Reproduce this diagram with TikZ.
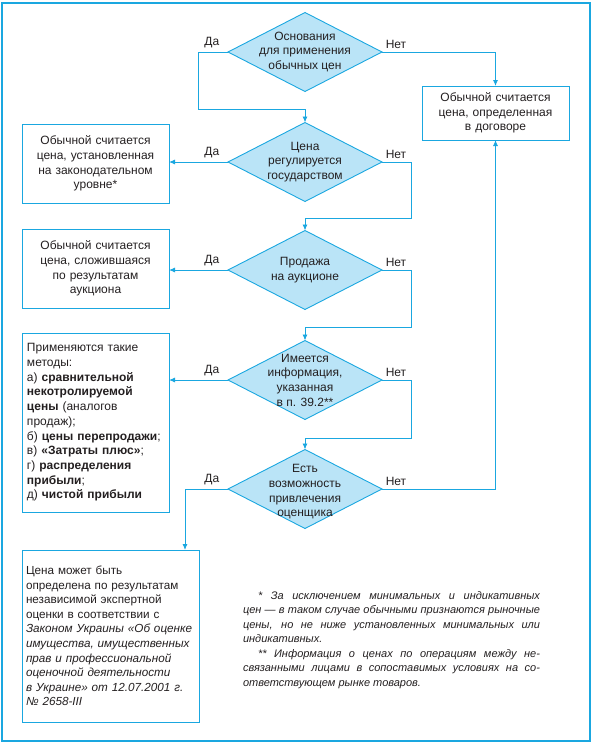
\documentclass[tikz,border=0pt]{standalone}
\usepackage{fontspec}
\setmainfont{Liberation Sans}
\usepackage{tikz}
\usetikzlibrary{calc}
\usetikzlibrary{shapes}
\usetikzlibrary{arrows.meta}

\definecolor{lineblue}{HTML}{1AA7E0}
\definecolor{fillblue}{HTML}{BAE4F7}
\definecolor{textgray}{HTML}{231F20}

\tikzset{
	decision/.style={diamond, draw=lineblue, fill=fillblue, line width=0.9pt, minimum width=154pt, minimum height=79pt, inner sep=0pt, outer sep=0pt},
	dtext/.style={align=center, font=\fontsize{12}{14.7}\selectfont, text=textgray},
	result/.style={rectangle, draw=lineblue, line width=0.9pt, inner sep=0pt, outer sep=0pt, font=\fontsize{12}{14.7}\selectfont, text=textgray},
	flow/.style={draw=lineblue, line width=0.9pt},
	answer/.style={font=\fontsize{12}{14.7}\selectfont, text=textgray},
}

\begin{document}
\begin{tikzpicture}[x=1pt, y=-1pt, >={Latex[length=6pt,width=5pt]}]
				\useasboundingbox (0,0) rectangle (592,744);
				\draw[lineblue, line width=1.6pt] (2,3) rectangle (590,741);
				
				\node[decision] (d1) at (305,52) {};
				\node[decision] (d2) at (305,162) {};
				\node[decision] (d3) at (305,270) {};
				\node[decision] (d4) at (305,380) {};
				\node[decision] (d5) at (305,489) {};
				\node[dtext] (t1) at (d1) {Основания\\для применения\\обычных цен};
				\node[dtext] (t2) at (d2) {Цена\\регулируется\\государством};
				\node[dtext] (t3) at (d3) {Продажа\\на аукционе};
				\node[dtext] (t4) at (d4) {Имеется\\информация,\\указанная\\в п. 39.2**};
				\node[dtext] (t5) at ([yshift=-3pt]d5) {Есть\\возможность\\привлечения\\оценщика};
				
				\node[result, minimum width=147pt, minimum height=54pt, text width=140pt, align=center] (b1) at (495.5,113) {Обычной считается\\цена, определенная\\в договоре};
				\node[result, minimum width=147pt, minimum height=79pt, text width=140pt, align=center] (b2) at (95.5,163.5) {Обычной считается\\цена, установленная\\на законодательном\\уровне*};
				\node[result, minimum width=147pt, minimum height=79pt, text width=140pt, align=center] (b3) at (95.5,268.5) {Обычной считается\\цена, сложившаяся\\по результатам\\аукциона};
				\node[result, minimum width=147pt, minimum height=179pt, text width=137pt, align=left] (b4) at (95.5,422.5) {Применяются такие\\методы:\\а) \textbf{сравнительной}\\\textbf{некотролируемой}\\\textbf{цены} (аналогов\\продаж);\\б) \textbf{цены перепродажи};\\в) \textbf{«Затраты плюс»};\\г) \textbf{распределения}\\\textbf{прибыли};\\д) \textbf{чистой прибыли}};
				\node[result, minimum width=177pt, minimum height=172pt, text width=169pt, align=left, font=\fontsize{11.7}{14.6}\selectfont] (b5) at (110.5,636) {Цена может быть\\определена по результатам\\независимой экспертной\\оценки в соответствии с\\\textit{Законом Украины «Об~оценке}\\\textit{имущества, имущественных}\\\textit{прав и профессиональной}\\\textit{оценочной деятельности}\\\textit{в Украине» от 12.07.2001~г.}\\\textit{№ 2658-III}};
				
				\node[text width=297pt, align=justify, font=\fontsize{11}{14.5}\selectfont\itshape, text=textgray, inner sep=0pt] (note) at (391.5,640) {\hspace*{15pt}* За исключением минимальных и индикативных\linebreak цен — в таком случае обычными признаются рыночные\linebreak цены, но не ниже установленных минимальных или\linebreak индикативных.\par\hspace*{15pt}** Информация о ценах по операциям между не-\linebreak связанными лицами в сопоставимых условиях на со-\linebreak ответствующем рынке товаров.};
				
				% ответы Да
				\draw[flow, ->] (d1.west) -- ++(-30,0) node[answer, pos=0, above left, xshift=-5pt] (y1) {Да} -- ++(0,57) -| (d2.north);
				\draw[flow, ->] (d2.west) -- (d2.west -| b2.east) node[answer, pos=0, above left, xshift=-5pt] (y2) {Да};
				\draw[flow, ->] (d3.west) -- (d3.west -| b3.east) node[answer, pos=0, above left, xshift=-5pt] (y3) {Да};
				\draw[flow, ->] (d4.west) -- (d4.west -| b4.east) node[answer, pos=0, above left, xshift=-5pt] (y4) {Да};
				\draw[flow, ->] (d5.west) -| ([xshift=-14pt]b5.north east) node[answer, pos=0, above left, xshift=-5pt] (y5) {Да};
				
				% ответы Нет
				\draw[flow, ->] (d1.east) -| (b1.north) node[answer, pos=0, above right] (n1) {Нет};
				\draw[flow, ->] (d2.east) -- ++(29,0) node[answer, pos=0, above right] (n2) {Нет} -- ++(0,56) -| (d3.north);
				\draw[flow, ->] (d3.east) -- ++(29,0) node[answer, pos=0, above right] (n3) {Нет} -- ++(0,57) -| (d4.north);
				\draw[flow, ->] (d4.east) -- ++(29,0) node[answer, pos=0, above right] (n4) {Нет} -- ++(0,58) -| (d5.north);
				\draw[flow, ->] (d5.east) -| (b1.south) node[answer, pos=0, above right] (n5) {Нет};
			\end{tikzpicture}
\end{document}
